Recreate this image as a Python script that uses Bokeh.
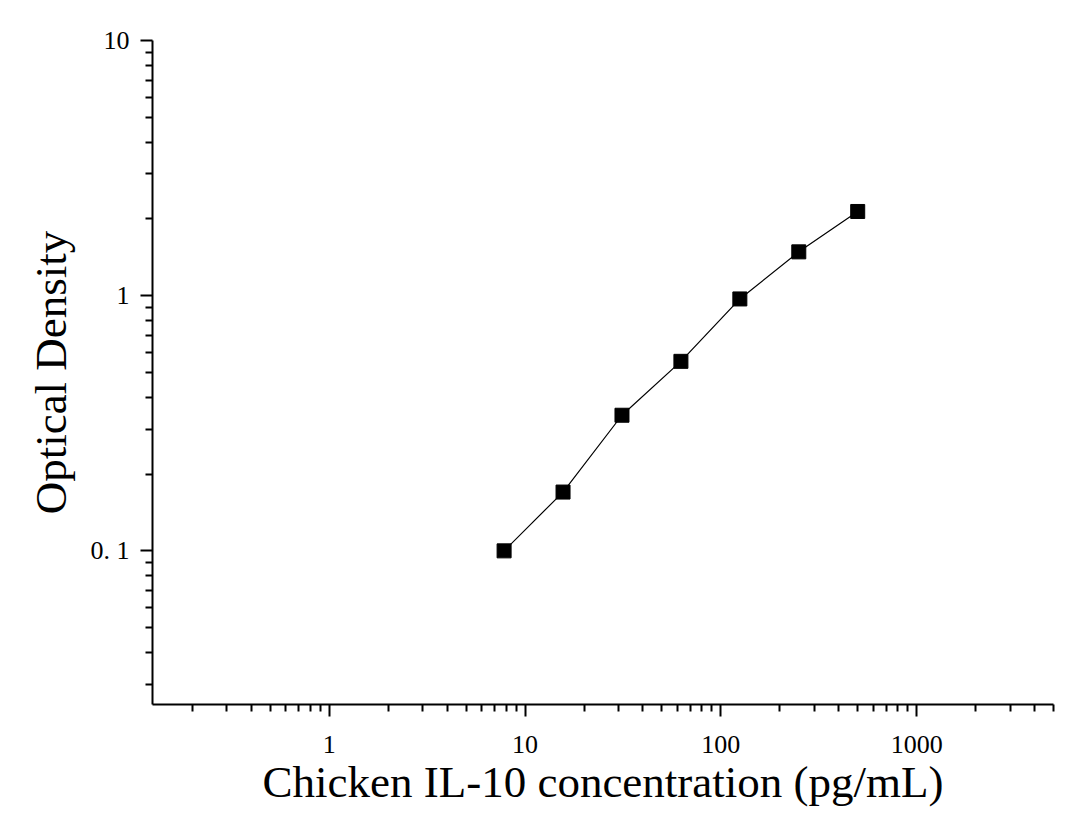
from bokeh.plotting import figure
from bokeh.models import FixedTicker, ColumnDataSource
from bokeh.embed import file_html
from bokeh.resources import INLINE

# Data
concentration = [7.8125, 15.625, 31.25, 62.5, 125, 250, 500]
optical_density = [0.100, 0.170, 0.340, 0.553, 0.971, 1.485, 2.138]

x_major = [1, 10, 100, 1000]
y_major = [0.1, 1, 10]
y_tick_labels = {0.1: "0. 1", 1: "1", 10: "10"}
x_tick_labels = {1: "1", 10: "10", 100: "100", 1000: "1000"}

x_minor = [m * d for d in [0.1, 1, 10, 100, 1000] for m in range(2, 10) if 0.125 <= m * d <= 5000]
y_minor = [m * d for d in [0.01, 0.1, 1] for m in range(2, 10) if 0.025 <= m * d <= 10]

src = ColumnDataSource(dict(x=concentration, y=optical_density))

p = figure(width=1080, height=824, x_axis_type="log", y_axis_type="log",
           x_range=(0.125, 5000), y_range=(0.025, 10),
           output_backend="svg", toolbar_location=None,
           min_border_left=152, min_border_right=27, min_border_top=40, min_border_bottom=120)

p.line("x", "y", source=src, line_color="black", line_width=1.2)
p.scatter("x", "y", source=src, marker="square", size=14, fill_color="black", line_color="black")

p.xgrid.visible = False
p.ygrid.visible = False
p.outline_line_color = None

p.xaxis.ticker = FixedTicker(ticks=x_major, minor_ticks=x_minor)
p.yaxis.ticker = FixedTicker(ticks=y_major, minor_ticks=y_minor)
p.xaxis.major_label_overrides = x_tick_labels
p.yaxis.major_label_overrides = y_tick_labels

for ax in [p.xaxis, p.yaxis]:
    ax.axis_line_width = 2
    ax.axis_line_color = "black"
    ax.major_tick_line_width = 2
    ax.minor_tick_line_width = 2
    ax.major_tick_line_color = "black"
    ax.minor_tick_line_color = "black"
    ax.major_tick_out = 12
    ax.major_tick_in = 0
    ax.minor_tick_out = 7
    ax.minor_tick_in = 0
    ax.major_label_text_font = "Liberation Serif"
    ax.major_label_text_font_size = "26px"
    ax.major_label_text_color = "black"
    ax.axis_label_text_font = "Liberation Serif"
    ax.axis_label_text_font_size = "45px"
    ax.axis_label_text_font_style = "normal"
    ax.axis_label_text_color = "black"

p.xaxis.axis_label = "Chicken IL-10 concentration (pg/mL)"
p.yaxis.axis_label = "Optical Density"
p.xaxis.major_label_standoff = 19
p.yaxis.major_label_standoff = 11
p.xaxis.axis_label_standoff = 1
p.yaxis.axis_label_standoff = 12

open("out.html", "w").write(file_html(p, INLINE))
